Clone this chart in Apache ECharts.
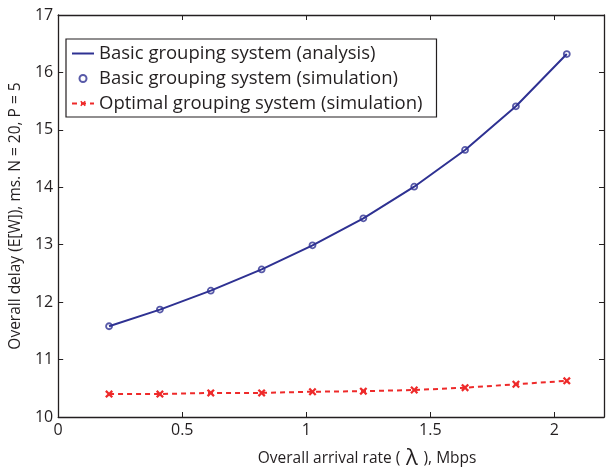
<!DOCTYPE html>
<html>
<head>
<meta charset="utf-8">
<script src="https://cdn.jsdelivr.net/npm/echarts@6/dist/echarts.min.js"></script>
<style>
  body { margin: 0; background: #fff; }
  #chart { width: 607px; height: 475px; }
</style>
</head>
<body>
<div id="chart"></div>
<script>
  // arrival rate, Mbps
  var rates = [0.205, 0.41, 0.615, 0.82, 1.025, 1.23, 1.435, 1.64, 1.845, 2.05];
  var basicAnalysis = [11.58, 11.87, 12.20, 12.57, 12.99, 13.46, 14.01, 14.65, 15.41, 16.32];
  var basicSim = [11.58, 11.87, 12.20, 12.57, 12.99, 13.46, 14.01, 14.65, 15.41, 16.32];
  var optimalSim = [10.40, 10.40, 10.42, 10.42, 10.44, 10.45, 10.47, 10.51, 10.57, 10.63];
  var names = ['Basic grouping system (analysis)', 'Basic grouping system (simulation)', 'Optimal grouping system (simulation)'];

  function pairs(xs, ys) {
    return xs.map(function (x, i) { return [x, ys[i]]; });
  }

  var font = '"Open Sans", Lato, sans-serif';
  var ink = '#231f20';
  var blue = '#2e3192';
  var red = '#ee2a2a';
  var cross = 'path://M2,0L5,3L8,0L10,2L7,5L10,8L8,10L5,7L2,10L0,8L3,5L0,2Z';

  var tickIn = { inside: true, length: 5, lineStyle: { color: ink } };
  var line = { show: true, onZero: false, lineStyle: { color: ink, width: 1.3 } };

  var chart = echarts.init(document.getElementById('chart'));
  chart.setOption({
    animation: false,
    textStyle: { fontFamily: font },
    grid: { left: 51, right: 1, top: 15, bottom: 52 },
    legend: {
      orient: 'vertical',
      left: 66, top: 39,
      data: [
        { name: names[0], itemStyle: { opacity: 0 } },
        { name: names[1] },
        { name: names[2] }
      ],
      backgroundColor: '#fff',
      borderColor: ink, borderWidth: 1.2, borderRadius: 0,
      padding: [4, 14, 3, 5],
      itemGap: 4, itemWidth: 22, itemHeight: 7,
      textStyle: { fontFamily: font, fontSize: 18.5, lineHeight: 21, color: ink }
    },
    xAxis: [{
      type: 'value', min: 0, max: 2.2, interval: 0.5,
      axisLine: line, axisTick: tickIn, splitLine: { show: false },
      axisLabel: {
        color: ink, fontSize: 16, margin: 5,
        formatter: function (v) { return v > 2.1 ? '' : String(v); }
      },
      name: '{a|Overall arrival rate (}{b| λ }{a|), Mbps}',
      nameLocation: 'middle', nameGap: 31,
      nameTextStyle: {
        padding: [0, 0, 0, 72],
        rich: {
          a: { fontFamily: font, fontSize: 15.5, color: ink },
          b: { fontFamily: font, fontSize: 22, color: ink }
        }
      }
    }, {
      type: 'value', min: 0, max: 2.2, interval: 0.5, position: 'top',
      axisLine: line, axisTick: tickIn, axisLabel: { show: false }, splitLine: { show: false }
    }],
    yAxis: [{
      type: 'value', min: 10, max: 17, interval: 1,
      axisLine: line, axisTick: tickIn, splitLine: { show: false },
      axisLabel: { color: ink, fontSize: 16, margin: 5 },
      name: 'Overall delay (E[W]), ms. N = 20, P = 5',
      nameLocation: 'middle', nameGap: 30,
      nameTextStyle: { fontSize: 15.5, color: ink }
    }, {
      type: 'value', min: 10, max: 17, interval: 1, position: 'right',
      axisLine: line, axisTick: tickIn, axisLabel: { show: false }, splitLine: { show: false }
    }],
    series: [{
      name: names[0], type: 'line', symbol: 'none',
      data: pairs(rates, basicAnalysis),
      lineStyle: { color: blue, width: 2 }, itemStyle: { color: blue }
    }, {
      name: names[1], type: 'scatter', symbol: 'circle', symbolSize: 6,
      data: pairs(rates, basicSim),
      itemStyle: { color: '#fff', borderColor: blue, borderWidth: 1.8 }
    }, {
      name: names[2], type: 'line', symbol: cross, symbolSize: 8, showAllSymbol: true,
      data: pairs(rates, optimalSim),
      lineStyle: { color: red, width: 2, type: [5, 4] },
      itemStyle: { color: red }
    }]
  });
</script>
</body>
</html>
